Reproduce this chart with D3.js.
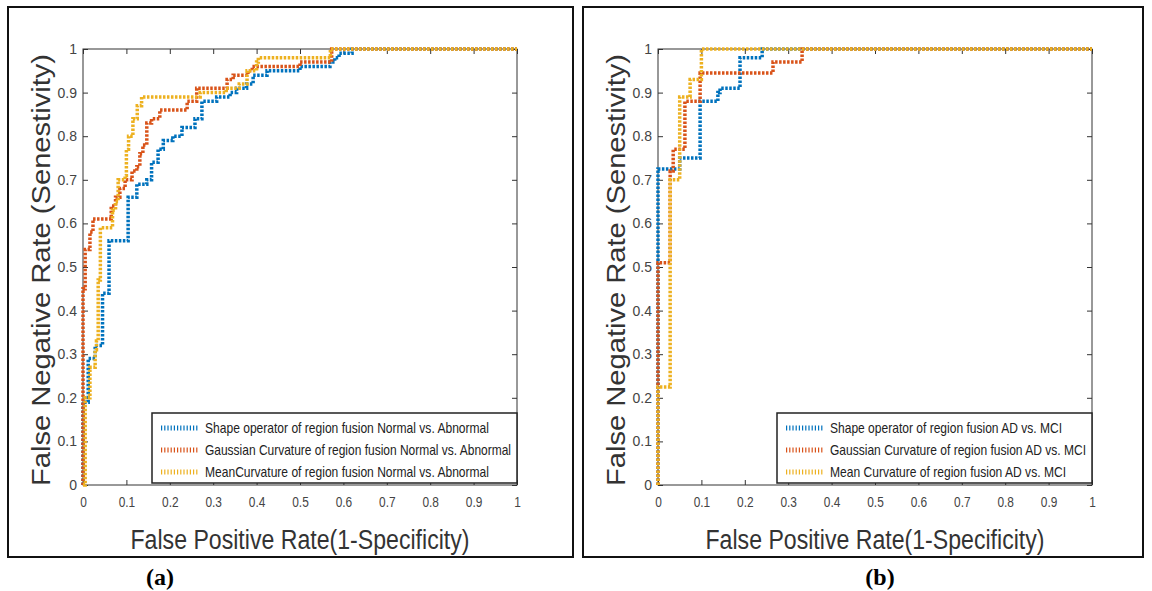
<!DOCTYPE html>
<html>
<head>
<meta charset="utf-8">
<script src="https://cdn.jsdelivr.net/npm/d3@7/dist/d3.min.js"></script>
<style>
  body { margin: 0; background: #fff; }
  text { font-family: "Liberation Sans", Arial, sans-serif; }
</style>
</head>
<body>
<svg id="chart" width="1152" height="591"></svg>
<script>
// ROC points [fpr, tpr] - each point: at fpr the curve rises to tpr
var shapeNormal = [[0,0],[0,0.19],[0.012,0.29],[0.028,0.32],[0.045,0.44],[0.06,0.56],[0.104,0.66],[0.124,0.69],[0.147,0.70],[0.158,0.74],[0.173,0.77],[0.185,0.79],[0.207,0.80],[0.228,0.82],[0.258,0.84],[0.274,0.88],[0.308,0.89],[0.339,0.90],[0.354,0.91],[0.377,0.92],[0.392,0.94],[0.424,0.95],[0.5,0.96],[0.569,0.97],[0.58,0.98],[0.59,0.99],[0.62,1],[1,1]];
var gaussNormal = [[0,0],[0,0.45],[0.005,0.54],[0.016,0.58],[0.023,0.61],[0.065,0.64],[0.075,0.66],[0.085,0.68],[0.097,0.70],[0.113,0.72],[0.124,0.73],[0.131,0.76],[0.138,0.78],[0.147,0.83],[0.158,0.84],[0.177,0.86],[0.24,0.88],[0.262,0.91],[0.332,0.93],[0.346,0.94],[0.38,0.95],[0.39,0.96],[0.5,0.97],[0.573,1],[1,1]];
var meanNormal = [[0,0],[0.005,0.2],[0.016,0.27],[0.028,0.31],[0.031,0.33],[0.035,0.47],[0.04,0.59],[0.068,0.63],[0.075,0.65],[0.081,0.70],[0.097,0.71],[0.1,0.77],[0.105,0.80],[0.115,0.84],[0.125,0.87],[0.135,0.89],[0.27,0.90],[0.33,0.91],[0.36,0.92],[0.378,0.95],[0.4,0.97],[0.404,0.98],[0.57,1],[1,1]];

var shapeAD = [[0,0],[0,0.725],[0.05,0.75],[0.097,0.88],[0.138,0.90],[0.143,0.91],[0.189,0.98],[0.24,1],[1,1]];
var gaussAD = [[0,0],[0,0.51],[0.028,0.72],[0.035,0.77],[0.062,0.88],[0.097,0.945],[0.265,0.97],[0.332,1],[1,1]];
var meanAD = [[0,0],[0,0.225],[0.028,0.70],[0.05,0.89],[0.074,0.93],[0.1,1],[1,1]];

var legendA = ["Shape operator of region fusion Normal vs. Abnormal",
               "Gaussian Curvature of region fusion Normal vs. Abnormal",
               "MeanCurvature of region fusion Normal vs. Abnormal"];
var legendB = ["Shape operator of region fusion AD vs. MCI",
               "Gaussian Curvature of region fusion AD vs. MCI",
               "Mean Curvature of region fusion AD vs. MCI"];

var tickValues = [0,0.1,0.2,0.3,0.4,0.5,0.6,0.7,0.8,0.9,1];
var tickLabels = ["0","0.1","0.2","0.3","0.4","0.5","0.6","0.7","0.8","0.9","1"];

var colors = ["#0072BD", "#D95319", "#EDB120"];

var svg = d3.select("#chart");

function drawPanel(cfg) {
    var plotW = 434, plotH = 436, top = 49;
    var left = cfg.left;

    // marco exterior
    svg.append("rect")
        .attr("x", left - 75).attr("y", 7)
        .attr("width", cfg.frameW).attr("height", 550)
        .attr("fill", "none").attr("stroke", "#111").attr("stroke-width", 2);

    var x = d3.scaleLinear().domain([0, 1]).range([0, plotW]);
    var y = d3.scaleLinear().domain([0, 1]).range([plotH, 0]);

    var g = svg.append("g").attr("transform", "translate(" + left + "," + top + ")");

    var fmt = function(d, i) { return tickLabels[i]; };

    // ejes con ticks hacia adentro (estilo MATLAB)
    var xb = g.append("g").attr("transform", "translate(0," + plotH + ")")
        .call(d3.axisBottom(x).tickValues(tickValues).tickFormat(fmt).tickSizeInner(-5).tickSizeOuter(0).tickPadding(12));
    g.append("g")
        .call(d3.axisTop(x).tickValues(tickValues).tickFormat("").tickSizeInner(-5).tickSizeOuter(0));
    var yl = g.append("g")
        .call(d3.axisLeft(y).tickValues(tickValues).tickFormat(fmt).tickSizeInner(-5).tickSizeOuter(0).tickPadding(6));
    g.append("g").attr("transform", "translate(" + plotW + ",0)")
        .call(d3.axisRight(y).tickValues(tickValues).tickFormat("").tickSizeInner(-5).tickSizeOuter(0));

    g.selectAll(".domain").remove();
    g.selectAll(".tick line").attr("stroke", "#333");
    xb.selectAll("text").attr("font-size", 14).attr("fill", "#444")
        .attr("transform", "scale(0.85,1)");
    yl.selectAll("text").attr("font-size", 14).attr("fill", "#444");

    g.append("rect")
        .attr("width", plotW).attr("height", plotH)
        .attr("fill", "none").attr("stroke", "#333").attr("stroke-width", 1);

    // curvas ROC
    var line = d3.line()
        .x(function(d) { return x(d[0]); })
        .y(function(d) { return y(d[1]); })
        .curve(d3.curveStepAfter);

    cfg.series.forEach(function(s, i) {
        g.append("path")
            .datum(s)
            .attr("d", line)
            .attr("fill", "none")
            .attr("stroke", colors[i])
            .attr("stroke-width", 3.5)
            .attr("stroke-dasharray", "2.5,1.5");
    });

    // leyenda
    var maxLen = d3.max(cfg.legendLen);
    var boxW = 53 + maxLen + 6;
    var lg = g.append("g").attr("transform", "translate(" + (plotW - boxW) + "," + (plotH - 72) + ")");
    lg.append("rect")
        .attr("width", boxW).attr("height", 70)
        .attr("fill", "#fff").attr("stroke", "#222").attr("stroke-width", 1.5);
    cfg.legend.forEach(function(t, i) {
        var yy = 15 + i * 22;
        lg.append("line")
            .attr("x1", 9).attr("x2", 47).attr("y1", yy).attr("y2", yy)
            .attr("stroke", colors[i]).attr("stroke-width", 5)
            .attr("stroke-dasharray", "1.2,2");
        lg.append("text")
            .attr("x", 53).attr("y", yy + 5)
            .attr("font-size", 15).attr("fill", "#222")
            .attr("textLength", cfg.legendLen[i])
            .attr("lengthAdjust", "spacingAndGlyphs")
            .text(t);
    });

    // titulos de ejes
    g.append("text")
        .attr("x", plotW / 2).attr("y", 500)
        .attr("text-anchor", "middle")
        .attr("font-size", 27).attr("fill", "#333")
        .attr("textLength", 339).attr("lengthAdjust", "spacingAndGlyphs")
        .text("False Positive Rate(1-Specificity)");
    g.append("text")
        .attr("transform", "translate(-33," + (plotH / 2 + 3) + ") rotate(-90)")
        .attr("text-anchor", "middle")
        .attr("font-size", 25).attr("fill", "#333")
        .attr("textLength", 432).attr("lengthAdjust", "spacingAndGlyphs")
        .text("False Negative Rate (Senestivity)");

    // etiqueta del panel
    svg.append("text")
        .attr("x", cfg.captionX).attr("y", 585)
        .attr("text-anchor", "middle")
        .style("font-family", "'Liberation Serif', 'Times New Roman', serif")
        .attr("font-weight", "bold").attr("font-size", 24)
        .text(cfg.caption);
}

drawPanel({ left: 83, frameW: 565, series: [shapeNormal, gaussNormal, meanNormal],
            legend: legendA, legendLen: [284, 306, 284], caption: "(a)", captionX: 160 });
drawPanel({ left: 658, frameW: 560, series: [shapeAD, gaussAD, meanAD],
            legend: legendB, legendLen: [232, 256, 236], caption: "(b)", captionX: 880 });
</script>
</body>
</html>
